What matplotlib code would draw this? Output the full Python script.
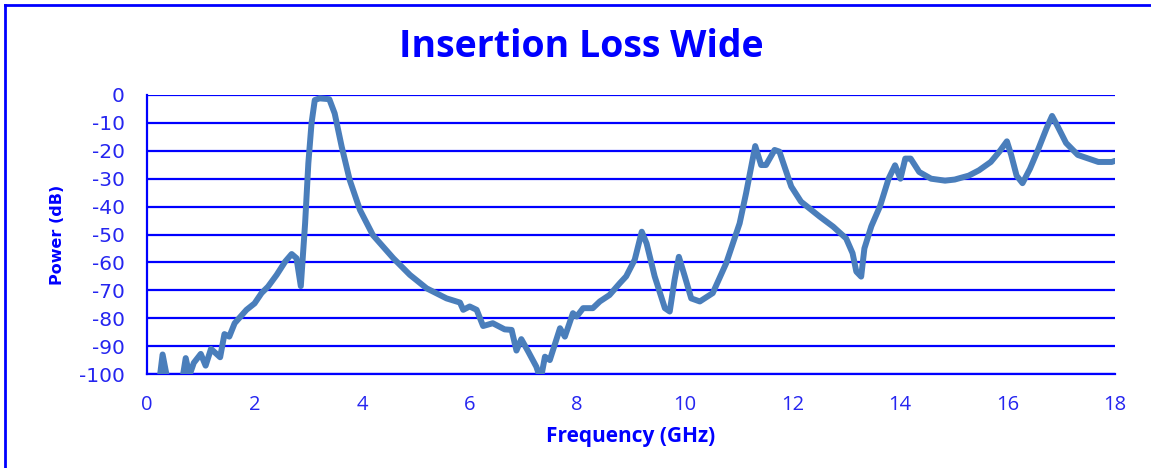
import numpy as np
import matplotlib
matplotlib.use("Agg")
import matplotlib.pyplot as plt
from matplotlib.lines import Line2D

# insertion loss readings (GHz, dB)
freq = [0.0, 0.22, 0.29, 0.37, 0.5, 0.64, 0.72, 0.79, 0.87, 1.0, 1.09, 1.19, 1.36,
        1.44, 1.53, 1.63, 1.85, 2.0, 2.13, 2.25, 2.41, 2.57, 2.69, 2.78, 2.86,
        2.94, 3.0, 3.06, 3.12, 3.21, 3.39, 3.49, 3.62, 3.77, 3.96, 4.2, 4.58,
        4.89, 5.2, 5.57, 5.82, 5.88, 6.0, 6.13, 6.25, 6.43, 6.65, 6.78, 6.87,
        6.96, 7.09, 7.24, 7.32, 7.4, 7.49, 7.68, 7.77, 7.92, 7.99, 8.11, 8.29,
        8.42, 8.6, 8.79, 8.91, 9.07, 9.2, 9.29, 9.44, 9.63, 9.72, 9.81, 9.89,
        10.0, 10.12, 10.28, 10.52, 10.77, 11.02, 11.14, 11.31, 11.42, 11.51,
        11.67, 11.76, 11.98, 12.16, 12.51, 12.76, 13.0, 13.12, 13.19, 13.28,
        13.34, 13.47, 13.63, 13.79, 13.91, 14.01, 14.1, 14.2, 14.36, 14.58,
        14.84, 15.02, 15.28, 15.47, 15.69, 15.85, 15.99, 16.07, 16.17, 16.28,
        16.42, 16.58, 16.73, 16.83, 16.93, 17.09, 17.31, 17.69, 17.94, 18.0]
loss = [-110, -104, -93, -101, -110, -104, -94.3, -100.5, -96, -92.8, -97, -91, -94,
        -85.7, -86.6, -81.8, -77, -74.7, -71, -68.7, -64.5, -59.7, -57, -58.5, -68.5,
        -46, -24.5, -10, -1.8, -1.2, -1.5, -6.6, -18.5, -30.5, -41.2, -50.2, -58.5,
        -64.5, -69.3, -72.9, -74.4, -77, -75.8, -77, -82.8, -81.8, -84, -84.2, -91.6,
        -87.5, -92, -97.4, -102, -93.8, -95, -83.6, -86.6, -78.2, -79.4, -76.4, -76.4,
        -74, -71.7, -67.5, -65, -59, -49, -53.2, -65, -76.4, -77.6, -66.3, -58,
        -65, -72.9, -74, -71, -60.3, -46, -35.2, -18.3, -25.1, -25.1,
        -19.7, -20.3, -32.8, -38.2, -43.6, -47.2, -51.4, -56.7, -63.3, -65.1,
        -55, -47, -39.9, -30, -25.2, -30, -22.8, -22.8, -27.6, -30,
        -30.7, -30.3, -28.9, -27, -24, -20.3, -16.6, -21.5, -28.9, -31.6,
        -26.4, -19.1, -11.8, -7.5, -11.1, -17.2, -21.5, -24, -24, -23.6]

xticks = [0, 2, 4, 6, 8, 10, 12, 14, 16, 18]
yticks = [0, -10, -20, -30, -40, -50, -60, -70, -80, -90, -100]

blue = "#0000FF"
txtblue = "#2525F0"

fig = plt.figure(figsize=(11.51, 4.68), dpi=100)
ax = fig.add_axes([147/1151, 1-374/468, (1115-147)/1151, (374-95)/468])

ax.plot(freq, loss, color="#4A7EBB", lw=4.3, solid_joinstyle="round",
        solid_capstyle="round", zorder=3)

ax.set_xlim(0, 18)
ax.set_ylim(-100, 0)
ax.set_xticks(xticks)
ax.set_yticks(yticks)
ax.set_yticklabels([str(v) for v in yticks], fontfamily="DejaVu Sans", fontsize=14.5)
ax.set_xticklabels([str(v) for v in xticks], fontfamily="Open Sans", fontsize=14.5)
ax.tick_params(length=0, colors=txtblue)
ax.tick_params(axis="y", pad=16)
ax.tick_params(axis="x", pad=15)
ax.grid(axis="y", color=blue, lw=1.6, zorder=1)
ax.set_axisbelow(True)
for s in ["top", "right"]:
    ax.spines[s].set_visible(False)
for s in ["left", "bottom"]:
    ax.spines[s].set_color(blue)
    ax.spines[s].set_linewidth(1.6)

ax.set_xlabel("Frequency (GHz)", fontfamily="Open Sans", fontweight="bold",
              fontsize=15, color=blue, labelpad=8)
ax.set_ylabel("Power (dB)", fontfamily="DejaVu Sans", fontweight="bold",
              fontsize=11.5, color=blue, labelpad=10)

fig.text(0.505, 1-47/468, "Insertion Loss Wide", ha="center", va="center",
         fontfamily="Open Sans", fontweight="bold", fontsize=27, color=blue)

# chart frame edges
fig.add_artist(Line2D([5/1151, 5/1151], [0, 1-5/468], color=blue, lw=2))
fig.add_artist(Line2D([5/1151, 1], [1-5/468, 1-5/468], color=blue, lw=2))

fig.savefig("out.png", dpi=100)
